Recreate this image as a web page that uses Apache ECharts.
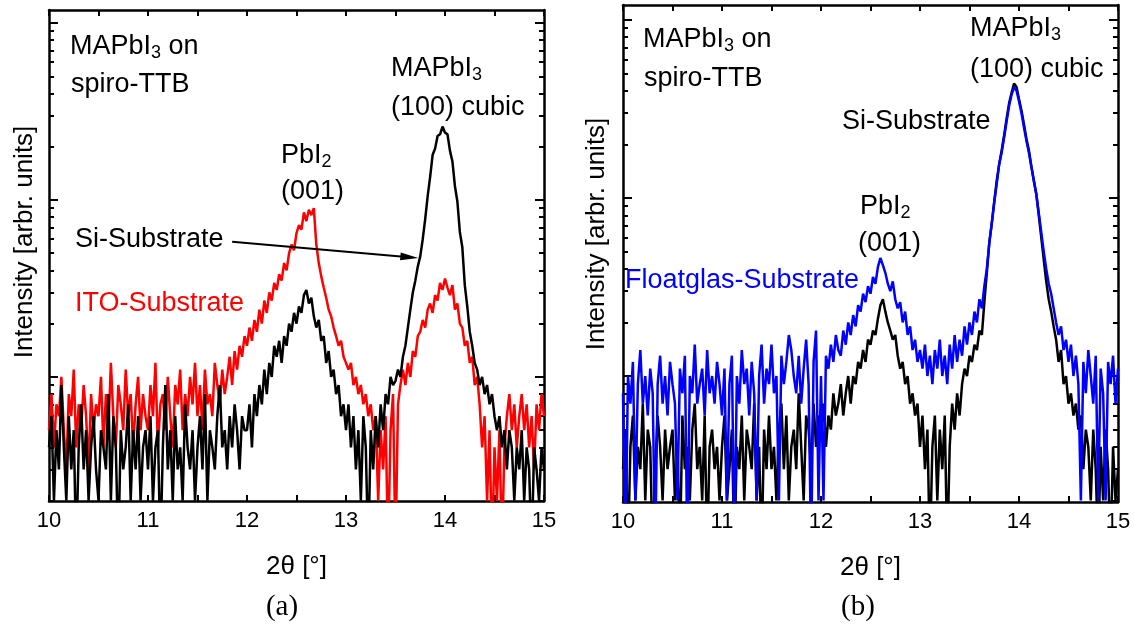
<!DOCTYPE html>
<html>
<head>
<meta charset="utf-8">
<title>XRD MAPbI3 on spiro-TTB</title>
<script src="https://cdn.jsdelivr.net/npm/echarts@6/dist/echarts.min.js"></script>
<style>
  html, body { margin: 0; padding: 0; background: #fff; }
  #chart { width: 1134px; height: 630px; }
</style>
</head>
<body>
<div id="chart"></div>
<script>
// 2theta grid of the scans (degrees)
const twoThetaStart = 10;
const twoThetaStep = 0.025;

// panel (a): Si substrate (black) and ITO substrate (red), counts
const siSubstrateA = [
  40,60,20,50,30,90,40,20,60,30,50,10,40,70,30,50,20,40,60,30,
  20,50,40,30,80,20,60,40,10,50,30,40,70,20,50,30,60,20,40,50,
  30,60,20,40,50,10,40,90,30,50,20,60,30,40,20,70,40,30,50,20,
  40,60,30,80,20,50,40,30,60,90,40,50,30,60,40,70,50,30,60,50,
  50,70,40,80,60,90,70,110,80,120,100,150,
  130,160,120,170,150,200,180,230,200,250,230,290,310,260,280,220,190,210,160,170,120,140,100,110,80,90,60,70,
  50,70,40,60,30,50,20,60,40,10,50,30,60,40,70,50,80,70,100,90,
  95,110,100,130,150,190,240,300,350,420,480,600,780,1050,1350,1800,1950,2300,2350,2600,
  2400,2350,1900,1650,1200,980,660,540,330,250,180,150,120,110,90,100,80,90,70,80,60,
  50,60,40,50,30,50,40,20,40,30,50,20,40,30,10,40,30,20,40,30
];
const itoSubstrateA = [
  50,80,40,70,60,100,50,30,80,60,110,40,70,50,90,60,30,80,50,70,
  60,100,40,80,50,120,60,40,90,70,50,110,60,80,40,70,100,50,80,60,
  50,90,60,120,40,70,80,50,100,60,40,90,70,110,50,80,60,100,70,120,
  60,90,50,110,70,80,60,120,90,70,110,80,
  100,130,90,140,110,150,130,170,150,190,160,210,180,240,200,270,230,300,270,340,310,380,350,440,400,500,560,520,
  650,720,680,850,760,880,820,900,560,440,370,320,280,240,220,190,170,150,160,130,
  120,110,120,90,100,80,90,70,80,60,70,50,60,20,50,30,60,10,50,80,
  10,70,90,110,90,120,100,140,130,170,180,210,190,240,260,230,290,270,340,310,
  360,320,290,330,240,260,200,190,150,160,120,130,90,100,70,40,60,20,50,10,40,
  20,50,10,40,60,80,50,70,40,60,80,50,70,40,60,30,70,50,80,60
];

// panel (b): Si substrate (black) and float glass substrate (blue)
const siSubstrateB = [
  30,50,10,40,60,20,40,30,70,20,50,40,10,30,60,40,20,50,30,40,
  50,20,40,10,60,30,40,20,50,70,30,40,20,60,10,40,50,30,40,20,
  40,60,20,30,50,10,40,30,60,20,50,40,30,70,20,40,10,50,30,60,
  30,40,20,50,70,30,60,20,40,50,30,80,40,20,60,50,30,70,40,60,
  50,70,40,60,50,80,60,70,90,60,80,100,70,100,90,120,110,140,120,160,
  150,180,170,210,250,270,230,200,180,160,170,130,110,120,90,100,70,80,60,70,
  40,60,30,50,10,40,60,20,50,30,60,10,40,70,50,80,60,90,110,100,
  130,120,150,140,180,170,260,380,560,720,950,1250,1550,1850,2250,2800,3400,3900,4400,4200,
  3600,3100,2600,2150,1850,1500,1250,1050,800,600,450,340,270,230,190,160,120,140,90,100,70,
  80,60,70,50,60,30,50,40,20,50,30,10,40,20,50,30,10,40,20,30
];
const floatglasSubstrateB = [
  80,10,100,70,120,20,90,140,70,100,60,110,80,10,90,130,70,100,60,120,
  90,70,20,110,80,130,10,100,80,150,70,90,110,60,140,80,100,70,120,90,
  60,110,20,90,130,10,100,70,140,90,110,60,120,80,20,100,150,70,110,90,
  150,80,100,20,130,90,120,170,140,100,80,130,70,110,160,90,10,120,180,20,
  100,20,130,110,150,120,170,140,130,180,150,200,170,220,190,250,230,290,260,320,
  290,360,330,410,460,420,380,330,300,340,270,240,260,200,230,170,190,140,160,120,
  140,110,150,100,130,90,140,110,160,100,130,90,150,110,170,120,160,130,190,150,
  200,170,230,200,270,240,320,400,560,720,950,1200,1550,1800,2200,2700,3300,3800,4200,4000,
  3500,3000,2500,2100,1800,1500,1250,1050,820,640,500,400,330,290,240,200,170,190,140,160,120,
  150,100,130,90,20,120,80,140,100,70,130,20,110,80,20,120,90,130,70,110
];

// log axis ticks (decades and the 2..9 steps between them)
const majorTicks = [100, 1000, 10000];
const minorTicks = [20,30,40,50,60,70,80,90, 200,300,400,500,600,700,800,900, 2000,3000,4000,5000,6000,7000,8000,9000];

const SANS = '"Liberation Sans", Arial, sans-serif';
const SERIF = '"Liberation Serif", "Times New Roman", serif';
const FS = 27;

function toPairs(values) {
  return values.map((v, i) => [+(twoThetaStart + i * twoThetaStep).toFixed(3), v]);
}

const frameLine = { show: true, onZero: false, lineStyle: { color: '#000', width: 2.5 } };

function xAxes(gi) {
  return [{
    gridIndex: gi, type: 'value', position: 'bottom', min: 10, max: 15, interval: 0.5,
    axisLine: frameLine,
    axisTick: { inside: true, length: 6, lineStyle: { color: '#000', width: 2 } },
    axisLabel: {
      color: '#000', fontFamily: SANS, fontSize: 22, margin: 9,
      formatter: v => (Number.isInteger(v) ? String(v) : '')
    },
    splitLine: { show: false },
    name: '2θ [°]', nameLocation: 'middle', nameGap: 53,
    nameTextStyle: { color: '#000', fontFamily: SANS, fontSize: 26 }
  }, {
    gridIndex: gi, type: 'value', position: 'top', min: 10, max: 15, interval: 0.5,
    axisLine: frameLine,
    axisTick: { inside: true, length: 6, lineStyle: { color: '#000', width: 2 } },
    axisLabel: { show: false },
    splitLine: { show: false }
  }];
}

function yAxes(gi, min, max) {
  const list = [];
  ['left', 'right'].forEach(pos => {
    list.push({
      gridIndex: gi, type: 'log', logBase: 10, min: min, max: max, position: pos,
      axisLine: frameLine,
      axisTick: { inside: true, length: 9, customValues: majorTicks, lineStyle: { color: '#000', width: 2 } },
      axisLabel: { show: false },
      splitLine: { show: false }
    });
    list.push({
      gridIndex: gi, type: 'log', logBase: 10, min: min, max: max, position: pos,
      axisLine: { show: false },
      axisTick: { inside: true, length: 5, customValues: minorTicks, lineStyle: { color: '#000', width: 2 } },
      axisLabel: { show: false },
      splitLine: { show: false }
    });
  });
  return list;
}

function scan(name, values, color, xi, yi) {
  return {
    name: name, type: 'line', xAxisIndex: xi, yAxisIndex: yi,
    data: toPairs(values), showSymbol: false, symbol: 'none',
    lineStyle: { color: color, width: 2.5 }, itemStyle: { color: color },
    animation: false, clip: true
  };
}

function txt(x, y, text, color, extra) {
  return {
    type: 'text', x: x, y: y, z: 100,
    style: Object.assign({
      text: text, fill: color || '#000', font: FS + 'px ' + SANS,
      align: 'left', verticalAlign: 'middle'
    }, extra || {})
  };
}

// subscripted label, e.g. MAPbI3
function subTxt(x, y, before, sub, after) {
  return {
    type: 'text', x: x, y: y, z: 100,
    style: {
      text: '{m|' + before + '}{s|' + sub + '}' + (after ? '{m|' + after + '}' : ''),
      align: 'left', verticalAlign: 'middle',
      rich: {
        m: { fontFamily: SANS, fontSize: FS, lineHeight: 30, fill: '#000', color: '#000' },
        s: { fontFamily: SANS, fontSize: 18, lineHeight: 10, verticalAlign: 'bottom', fill: '#000', color: '#000' }
      }
    }
  };
}

const siA = scan('Si-Substrate', siSubstrateA, '#000000', 0, 0);
siA.markLine = {
  silent: true, animation: false, symbol: ['none', 'triangle'], symbolSize: [1, 14],
  label: { show: false },
  lineStyle: { color: '#000', width: 2, type: 'solid' },
  data: [[{ coord: [11.85, 580] }, { coord: [13.64, 475], symbol: 'triangle', symbolSize: [8, 18] }]]
};

const option = {
  backgroundColor: '#fff',
  animation: false,
  grid: [
    { left: 49, top: 10, width: 495, height: 491 },
    { left: 623, top: 5, width: 495, height: 497 }
  ],
  xAxis: xAxes(0).concat(xAxes(1)),
  yAxis: yAxes(0, 19.9, 11840).concat(yAxes(1, 19.6, 12140)),
  series: [
    scan('ITO-Substrate', itoSubstrateA, '#ff0000', 0, 0),
    siA,
    scan('Si-Substrate', siSubstrateB, '#000000', 2, 4),
    scan('Floatglas-Substrate', floatglasSubstrateB, '#0000ff', 2, 4)
  ],
  graphic: [
    // y axis titles
    txt(25, 242, 'Intensity [arbr. units]', '#000', { align: 'center', font: '26px ' + SANS }),
    txt(597, 234, 'Intensity [arbr. units]', '#000', { align: 'center', font: '26px ' + SANS }),
    // sub-figure captions
    txt(282, 607, '(a)', '#000', { align: 'center', font: '29px ' + SERIF }),
    txt(858, 607, '(b)', '#000', { align: 'center', font: '29px ' + SERIF }),
    // panel (a) annotations
    subTxt(70, 47, 'MAPbI', '3', ' on'),
    txt(71, 85, 'spiro-TTB'),
    subTxt(281, 156, 'PbI', '2'),
    txt(281, 192, '(001)'),
    subTxt(391, 69, 'MAPbI', '3'),
    txt(391, 108, '(100) cubic'),
    txt(75, 240, 'Si-Substrate'),
    txt(75, 304, 'ITO-Substrate', '#ff0000'),
    // panel (b) annotations
    subTxt(643, 40, 'MAPbI', '3', ' on'),
    txt(644, 79, 'spiro-TTB'),
    subTxt(970, 29, 'MAPbI', '3'),
    txt(970, 70, '(100) cubic'),
    txt(842, 122, 'Si-Substrate'),
    subTxt(860, 207, 'PbI', '2'),
    txt(858, 244, '(001)'),
    txt(625, 281, 'Floatglas-Substrate', '#0000ff')
  ]
};
// rotate the axis titles
option.graphic[0].rotation = Math.PI / 2;
option.graphic[1].rotation = Math.PI / 2;

const chart = echarts.init(document.getElementById('chart'));
chart.setOption(option);
</script>
</body>
</html>
